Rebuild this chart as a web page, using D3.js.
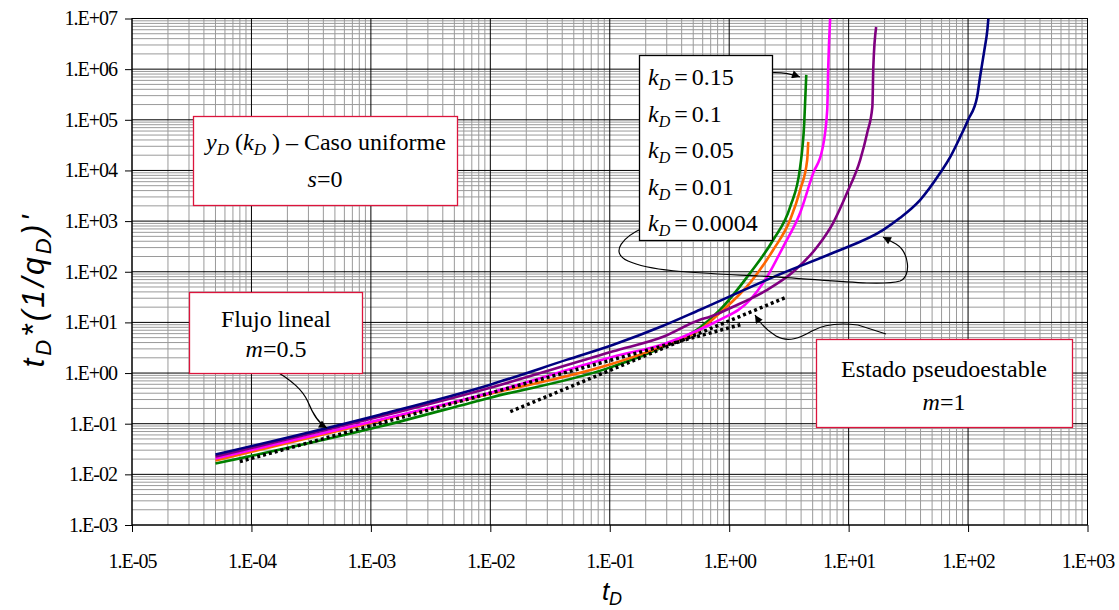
<!DOCTYPE html>
<html lang="en">
  <head>
    <meta charset="utf-8">
    <title>tD*(1/qD)' vs tD</title>
    <script src="https://d3js.org/d3.v7.min.js"></script>
    <style>
      body {
        margin: 0;
        background: #fff;
      }

      .tick-label {
        font-family: "Liberation Serif", "Times New Roman", serif;
        font-size: 20px;
        letter-spacing: -1px;
        fill: #000;
      }

      .note {
        font-family: "Liberation Serif", "Times New Roman", serif;
        font-size: 24px;
        fill: #000;
      }

      .grid-minor line {
        stroke: #9a9a9a;
        stroke-width: 1;
      }

      .grid-major line {
        stroke: #000;
        stroke-width: 1;
      }
    </style>
  </head>

  <body>
    <svg id="chart" width="1119" height="610"></svg>

    <script>

    // data ******************************************************

    let seriesNames = ["0.15", "0.1", "0.05", "0.01", "0.0004"]
    let seriesColors = ["#008000", "#ff6600", "#ff00ff", "#800080", "#000080"]

    // [tD, tD*(1/qD)']
    let kd015 = [[5e-5, 0.0163], [1.19e-3, 0.0877], [1.0e-2, 0.327], [0.10, 1.28], [0.28, 3.3],
      [0.57, 7.9], [0.84, 17.8], [1.50, 95], [2.34, 428], [3.24, 1910], [3.93, 1.18e4],
      [4.25, 8.7e4], [4.42, 7.7e5]]

    let kd01 = [[5e-5, 0.0187], [1.19e-3, 0.115], [1.0e-2, 0.39], [0.10, 1.47], [0.28, 3.4],
      [0.57, 7.2], [0.84, 15.5], [1.50, 61], [2.34, 272], [3.24, 1060], [3.93, 4140],
      [4.50, 1.62e4], [4.59, 3.66e4]]

    let kd005 = [[5e-5, 0.0205], [1.19e-3, 0.12], [1.0e-2, 0.41], [0.107, 2.10], [0.28, 3.7],
      [0.69, 9.0], [0.84, 11.3], [1.50, 28], [2.08, 80], [2.83, 311], [3.93, 1460],
      [5.06, 8970], [6.01, 2.55e4], [6.62, 1.57e5], [6.75, 1.1e6], [7.0, 1e7]]

    let kd001 = [[5e-5, 0.0224], [1.19e-3, 0.138], [1.0e-2, 0.515], [0.107, 2.7], [0.28, 5.2],
      [0.57, 11.3], [0.69, 12.9], [1.08, 20.4], [2.08, 44], [3.44, 100], [5.46, 311],
      [7.43, 925], [9.7, 3610], [12.5, 1.62e4], [14.3, 5.5e4], [15.8, 1.8e5],
      [16.1, 1.1e6], [17.0, 6.8e6]]

    let kd00004 = [[5e-5, 0.0246], [1.19e-3, 0.151], [1.0e-2, 0.59], [0.044, 1.84], [0.107, 3.63],
      [0.28, 8.6], [0.57, 17.8], [2.83, 95], [7.43, 237], [19.5, 673], [27, 1160],
      [39.8, 2630], [58.5, 8970], [71, 1.85e4], [86, 4.6e4], [100, 9.96e4], [119, 2.83e5],
      [126, 7.0e5], [137, 2.39e6], [145, 5.9e6], [148, 1e7]]

    // straight reference lines
    let slopeHalf = [[8.0e-5, 0.0179], [1.24, 9.0]]
    let slopeOne = [[0.0147, 0.173], [3.06, 32]]

    let xTicks = [1e-5, 1e-4, 1e-3, 1e-2, 1e-1, 1, 10, 100, 1000]
    let yTicks = [1e-3, 1e-2, 1e-1, 1, 10, 100, 1e3, 1e4, 1e5, 1e6, 1e7]

    // layout ****************************************************

    let pLeft = 132, pRight = 1087.5, pTop = 18.5, pBottom = 525

    let svg = d3.select("#chart")

    let x = d3.scaleLog().domain([1e-5, 1e3]).range([pLeft, pRight])
    let y = d3.scaleLog().domain([1e-3, 1e7]).range([pBottom, pTop])

    function fmt(v) {
      let e = Math.round(Math.log10(v))
      return "1.E" + (e < 0 ? "-" : "+") + String(Math.abs(e)).padStart(2, "0")
    }

    function isMajor(v) {
      let m = v / Math.pow(10, Math.floor(Math.log10(v) + 1e-9))
      return Math.abs(m - 1) < 1e-6
    }

    let defs = svg.append("defs")
    defs.append("clipPath").attr("id", "plot-clip")
      .append("rect")
        .attr("x", pLeft).attr("y", pTop)
        .attr("width", pRight - pLeft).attr("height", pBottom - pTop)

    defs.append("marker")
        .attr("id", "head")
        .attr("viewBox", "0 0 10 10")
        .attr("refX", 10).attr("refY", 5)
        .attr("markerWidth", 11).attr("markerHeight", 8)
        .attr("markerUnits", "userSpaceOnUse")
        .attr("orient", "auto")
      .append("path")
        .attr("d", "M0,0 L10,5 L0,10 z")
        .attr("fill", "#000")

    // grid
    let xAll = x.ticks(20), yAll = y.ticks(30)

    let minor = svg.append("g").attr("class", "grid-minor")
    minor.selectAll(".vx").data(xAll.filter(d => !isMajor(d))).join("line")
      .attr("class", "vx")
      .attr("x1", d => x(d)).attr("x2", d => x(d)).attr("y1", pTop).attr("y2", pBottom)
    minor.selectAll(".hy").data(yAll.filter(d => !isMajor(d))).join("line")
      .attr("class", "hy")
      .attr("y1", d => y(d)).attr("y2", d => y(d)).attr("x1", pLeft).attr("x2", pRight)

    let major = svg.append("g").attr("class", "grid-major")
    major.selectAll(".vx").data(xTicks).join("line")
      .attr("class", "vx")
      .attr("x1", d => x(d)).attr("x2", d => x(d)).attr("y1", pTop).attr("y2", pBottom)
    major.selectAll(".hy").data(yTicks).join("line")
      .attr("class", "hy")
      .attr("y1", d => y(d)).attr("y2", d => y(d)).attr("x1", pLeft).attr("x2", pRight)

    svg.append("rect")
      .attr("x", pLeft).attr("y", pTop)
      .attr("width", pRight - pLeft).attr("height", pBottom - pTop)
      .attr("fill", "none").attr("stroke", "#000").attr("stroke-width", 1)

    // axes
    let xAxis = svg.append("g")
      .attr("transform", "translate(0," + pBottom + ")")
      .call(d3.axisBottom(x).tickValues(xTicks).tickFormat(fmt).tickSize(7).tickSizeOuter(0).tickPadding(22))
    let yAxis = svg.append("g")
      .attr("transform", "translate(" + pLeft + ",0)")
      .call(d3.axisLeft(y).tickValues(yTicks).tickFormat(fmt).tickSize(7).tickSizeOuter(0).tickPadding(8))

    for (let a of [xAxis, yAxis]) {
      a.attr("font-family", null).attr("font-size", null)
      a.select(".domain").remove()
      a.selectAll("text").attr("class", "tick-label")
      a.selectAll("line").attr("stroke", "#000")
    }

    // axis titles
    svg.append("text")
      .attr("transform", "translate(44,290) rotate(-90)")
      .attr("text-anchor", "middle")
      .style("font-family", "Arial, 'Liberation Sans', sans-serif")
      .style("font-size", "32px")
      .style("font-style", "italic")
      .style("letter-spacing", "3px")
      .html("t<tspan font-size='22' dy='7'>D</tspan><tspan dy='-7'>*(1/q</tspan><tspan font-size='22' dy='7'>D</tspan><tspan dy='-7'>)'</tspan>")

    svg.append("text")
      .attr("x", 612).attr("y", 600)
      .attr("text-anchor", "middle")
      .style("font-family", "Arial, 'Liberation Sans', sans-serif")
      .style("font-size", "26px")
      .style("font-style", "italic")
      .html("t<tspan font-size='18' dy='5'>D</tspan>")

    // curves
    let line = d3.line()
      .x(d => x(d[0]))
      .y(d => y(d[1]))
      .curve(d3.curveMonotoneX)

    let curves = [kd015, kd01, kd005, kd001, kd00004]

    let plot = svg.append("g").attr("clip-path", "url(#plot-clip)")

    plot.selectAll("path.curve")
      .data(curves)
      .join("path")
        .attr("class", "curve")
        .attr("d", line)
        .attr("fill", "none")
        .attr("stroke", (d, i) => seriesColors[i])
        .attr("stroke-width", 2.6)
        .attr("stroke-linejoin", "round")

    plot.selectAll("path.ref")
      .data([slopeHalf, slopeOne])
      .join("path")
        .attr("class", "ref")
        .attr("d", d3.line().x(d => x(d[0])).y(d => y(d[1])))
        .attr("fill", "none")
        .attr("stroke", "#000")
        .attr("stroke-width", 3.5)
        .attr("stroke-dasharray", "3,3")

    // annotation arrows
    let arrows = [
      "M272,369 C292,380 303,390 308,402 C313,414 318,423 327,428",
      "M745,79 C760,72 780,70 800,77",
      "M643,228 C625,236 608,252 628,261 C652,272 700,273 760,276 C820,279 880,287 900,281 C912,276 909,252 896,244 L883,237",
      "M886,334 L858,325 C842,323 826,323 812,331 C800,338 788,343 776,336 C766,330 760,323 755,315"
    ]

    svg.selectAll("path.arrow")
      .data(arrows)
      .join("path")
        .attr("class", "arrow")
        .attr("d", d => d)
        .attr("fill", "none")
        .attr("stroke", "#000")
        .attr("stroke-width", 1.2)
        .attr("marker-end", "url(#head)")

    // note boxes
    function box(x0, y0, w, h, color) {
      svg.append("rect")
        .attr("x", x0).attr("y", y0).attr("width", w).attr("height", h)
        .attr("fill", "#fff").attr("stroke", color).attr("stroke-width", 1.3)
    }

    box(193.5, 116.5, 264, 89, "#dc143c")
    svg.append("text").attr("class", "note").attr("x", 326).attr("y", 150).attr("text-anchor", "middle")
      .html("<tspan font-style='italic'>y</tspan><tspan font-style='italic' font-size='17' dy='5'>D</tspan><tspan dy='-5'> (</tspan><tspan font-style='italic'>k</tspan><tspan font-style='italic' font-size='17' dy='5'>D</tspan><tspan dy='-5'> ) \u2013 Caso uniforme</tspan>")
    svg.append("text").attr("class", "note").attr("x", 325).attr("y", 187).attr("text-anchor", "middle")
      .html("<tspan font-style='italic'>s</tspan>=0")

    box(189.5, 292.5, 173, 81, "#dc143c")
    svg.append("text").attr("class", "note").attr("x", 276).attr("y", 327).attr("text-anchor", "middle")
      .text("Flujo lineal")
    svg.append("text").attr("class", "note").attr("x", 276).attr("y", 357).attr("text-anchor", "middle")
      .html("<tspan font-style='italic'>m</tspan>=0.5")

    box(816.5, 339.5, 256, 88, "#dc143c")
    svg.append("text").attr("class", "note").attr("x", 944).attr("y", 377).attr("text-anchor", "middle")
      .text("Estado pseudoestable")
    svg.append("text").attr("class", "note").attr("x", 944).attr("y", 410).attr("text-anchor", "middle")
      .html("<tspan font-style='italic'>m</tspan>=1")

    // legend box
    box(639.5, 55.5, 133, 185, "#000")
    svg.selectAll("text.legend")
      .data(seriesNames)
      .join("text")
        .attr("class", "note legend")
        .attr("x", 648)
        .attr("y", (d, i) => 85 + i * 36.5)
        .html(d => "<tspan font-style='italic'>k</tspan><tspan font-style='italic' font-size='16' dy='5'>D</tspan><tspan dy='-5' dx='4'>=</tspan><tspan dx='4'>" + d + "</tspan>")

    </script>
  </body>
</html>
